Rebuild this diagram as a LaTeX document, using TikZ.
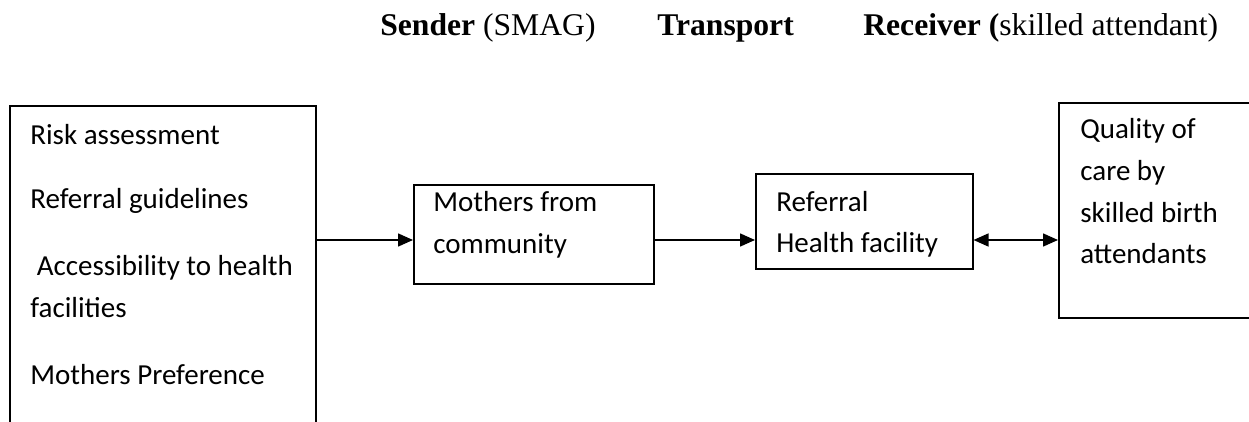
\documentclass[tikz,border=0pt]{standalone}
\usepackage{fontspec}
\setmainfont{Liberation Serif}
\newfontfamily\boxfont{Carlito}
\usepackage{tikz}
\usetikzlibrary{arrows.meta, positioning}

\begin{document}
\begin{tikzpicture}[x=0.02cm, y=-0.02cm,
    box/.style={draw, line width=0.9pt, anchor=north west, inner sep=0pt},
    txt/.style={anchor=base west, inner sep=0pt, font=\boxfont\fontsize{16.5}{20}\selectfont},
    head/.style={anchor=base west, inner sep=0pt, font=\fontsize{18}{22}\selectfont},
    arr/.style={line width=0.9pt, -{Triangle[length=0.3cm, width=0.26cm]}}]
    \useasboundingbox (0,0) rectangle (1249,422);

    % heading
    \node[head] (sender) at (380,36) {\textbf{Sender} (SMAG)};
    \node[head] (transport) at (657,36) {\textbf{Transport}};
    \node[head] (receiver) at (863,36) {\textbf{Receiver (}skilled attendant)};

    % boxes
    \node[box, minimum width=6.12cm, minimum height=6.7cm] (factors) at (9,105) {};
    \node[box, minimum width=4.8cm, minimum height=1.98cm] (mothers) at (413,184) {};
    \node[box, minimum width=4.34cm, minimum height=1.9cm] (facility) at (755,173) {};
    \node[box, minimum width=4.24cm, minimum height=4.3cm] (quality) at (1058,102) {};

    % box texts
    \node[txt] (risk) at (30,145) {Risk assessment};
    \node[txt] (guide) at (30,209) {Referral guidelines};
    \node[txt] (access) at (30,276) {\ Accessibility to health};
    \node[txt] (access2) at (30,318) {facilities};
    \node[txt] (pref) at (30,385) {Mothers Preference};

    \node[txt] (mothers1) at (433,212) {Mothers from};
    \node[txt] (mothers2) at (433,254) {community};

    \node[txt] (ref1) at (776,212) {Referral};
    \node[txt] (ref2) at (776,253) {Health facility};

    \node[txt] (qual1) at (1080,139) {Quality of};
    \node[txt] (qual2) at (1080,181) {care by};
    \node[txt] (qual3) at (1080,223) {skilled birth};
    \node[txt] (qual4) at (1080,264) {attendants};

    % arrows
    \coordinate (ay) at (0,240);
    \draw[arr] (factors.east |- ay) -- (mothers.west |- ay);
    \draw[arr] (mothers.east |- ay) -- (facility.west |- ay);
    \draw[arr, {Triangle[length=0.3cm, width=0.26cm]}-{Triangle[length=0.3cm, width=0.26cm]}] (facility.east |- ay) -- (quality.west |- ay);
\end{tikzpicture}
\end{document}
